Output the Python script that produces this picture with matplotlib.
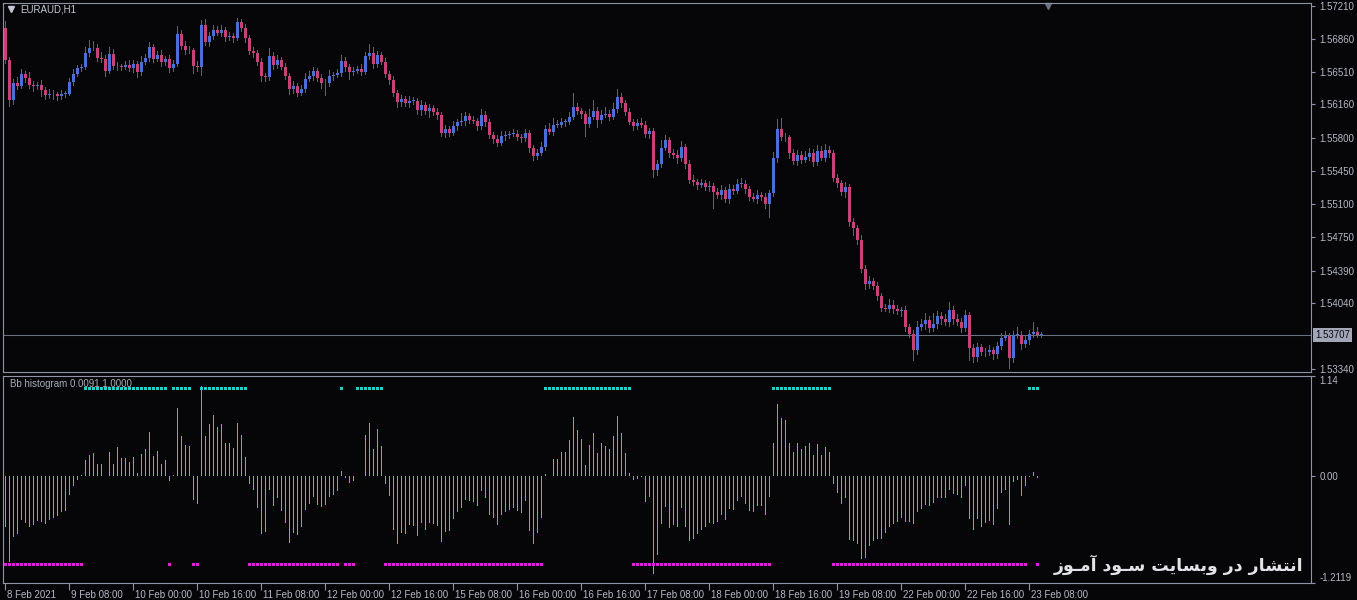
import numpy as np
import matplotlib
matplotlib.use("Agg")
import matplotlib.pyplot as plt
from matplotlib.transforms import blended_transform_factory, ScaledTranslation

# ---------------- data ----------------
symbol_label = "EURAUD,H1"
indicator_label = "Bb histogram 0.0091 1.0000"

first_open = 1.56975
closes = [
    1.56634, 1.56208, 1.56389, 1.56357, 1.56485, 1.56442, 1.56368, 1.56357, 1.56368, 1.56315,
    1.56261, 1.56272, 1.56268, 1.56251, 1.56272, 1.56276, 1.56400, 1.56485, 1.56549, 1.56556,
    1.56709, 1.56762, 1.56758, 1.56656, 1.56650, 1.56517, 1.56698, 1.56570, 1.56566, 1.56562,
    1.56581, 1.56549, 1.56592, 1.56506, 1.56613, 1.56656, 1.56773, 1.56645, 1.56688, 1.56613,
    1.56645, 1.56549, 1.56592, 1.56912, 1.56784, 1.56741, 1.56737, 1.56570, 1.56560, 1.57007,
    1.56826, 1.56890, 1.56954, 1.56922, 1.56954, 1.56880, 1.56890, 1.56869, 1.57039, 1.56975,
    1.56869, 1.56730, 1.56709, 1.56613, 1.56464, 1.56453, 1.56677, 1.56581, 1.56634, 1.56560,
    1.56464, 1.56325, 1.56357, 1.56283, 1.56325, 1.56432, 1.56464, 1.56517, 1.56442, 1.56389,
    1.56385, 1.56464, 1.56474, 1.56496, 1.56624, 1.56560, 1.56506, 1.56517, 1.56538, 1.56506,
    1.56677, 1.56709, 1.56592, 1.56688, 1.56613, 1.56485, 1.56421, 1.56283, 1.56187, 1.56219,
    1.56176, 1.56197, 1.56201, 1.56101, 1.56155, 1.56091, 1.56123, 1.56080, 1.56048, 1.55856,
    1.55899, 1.55856, 1.55931, 1.55973, 1.55984, 1.56037, 1.55995, 1.55984, 1.55931, 1.56048,
    1.55973, 1.55835, 1.55792, 1.55750, 1.55824, 1.55835, 1.55845, 1.55849, 1.55813, 1.55803,
    1.55856, 1.55696, 1.55611, 1.55643, 1.55707, 1.55899, 1.55867, 1.55941, 1.55945, 1.55973,
    1.55977, 1.56027, 1.56133, 1.56091, 1.56059, 1.55952, 1.56027, 1.56091, 1.55995, 1.56048,
    1.56059, 1.56027, 1.56112, 1.56240, 1.56176, 1.56080, 1.55973, 1.55931, 1.55963, 1.55941,
    1.55845, 1.55877, 1.55462, 1.55526, 1.55696, 1.55781, 1.55643, 1.55622, 1.55590, 1.55707,
    1.55526, 1.55355, 1.55334, 1.55302, 1.55323, 1.55280, 1.55291, 1.55227, 1.55195, 1.55248,
    1.55152, 1.55259, 1.55238, 1.55312, 1.55316, 1.55259, 1.55174, 1.55152, 1.55195, 1.55174,
    1.55099, 1.55216, 1.55590, 1.55899, 1.55813, 1.55809, 1.55643, 1.55558, 1.55622, 1.55568,
    1.55600, 1.55643, 1.55547, 1.55664, 1.55590, 1.55675, 1.55643, 1.55376, 1.55323, 1.55227,
    1.55280, 1.54907, 1.54843, 1.54715, 1.54406, 1.54246, 1.54278, 1.54225, 1.54118, 1.53990,
    1.53980, 1.54022, 1.53980, 1.53958, 1.53969, 1.53788, 1.53713, 1.53543, 1.53788, 1.53820,
    1.53863, 1.53777, 1.53820, 1.53905, 1.53873, 1.53841, 1.53969, 1.53873, 1.53841, 1.53777,
    1.53916, 1.53564, 1.53468, 1.53575, 1.53521, 1.53517, 1.53543, 1.53500, 1.53585, 1.53671,
    1.53692, 1.53457, 1.53703, 1.53707, 1.53607, 1.53649, 1.53713, 1.53735, 1.53703, 1.53707,
]
upper_wick_pips = [
    8, 3, 4, 6, 5, 3, 6, 4, 3, 5,   3, 5, 4, 3, 4, 3, 4, 5, 3, 4,
    6, 9, 8, 5, 6, 4, 7, 5, 4, 3,   4, 5, 4, 3, 6, 4, 5, 3, 4, 5,
    3, 4, 4, 9, 4, 5, 4, 3, 5, 5,   6, 4, 5, 4, 5, 3, 4, 3, 4, 3,
    4, 3, 4, 3, 4, 3, 9, 4, 5, 3,   4, 3, 5, 3, 4, 6, 5, 4, 3, 4,
    4, 6, 3, 4, 6, 4, 3, 4, 3, 5,   4, 10, 6, 4, 3, 4, 3, 4, 3, 4,
    3, 5, 4, 3, 5, 3, 4, 3, 4, 3,   4, 3, 5, 3, 8, 4, 3, 4, 3, 6,
    4, 3, 3, 4, 5, 4, 3, 5, 4, 3,   4, 3, 3, 4, 5, 4, 6, 7, 5, 4,
    3, 5, 15, 4, 3, 3, 8, 12, 4, 5, 7, 4, 6, 9, 4, 3, 4, 3, 4, 5,
    4, 3, 3, 4, 9, 5, 3, 4, 5, 6,   3, 4, 5, 3, 4, 3, 5, 3, 4, 5,
    3, 5, 4, 5, 6, 4, 3, 4, 5, 3,   4, 3, 6, 11, 12, 4, 3, 4, 5, 4,
    6, 5, 4, 6, 5, 6, 4, 3, 4, 3,   5, 3, 4, 3, 5, 4, 5, 3, 4, 3,
    4, 6, 5, 4, 3, 4, 3, 4, 6, 5,   7, 4, 12, 5, 4, 5, 9, 4, 5, 4,
    5, 3, 4, 4, 3, 4, 5, 3, 4, 5,   5, 3, 4, 8, 4, 5, 4, 11, 5, 3,
]
lower_wick_pips = [
    4, 7, 5, 4, 3, 5, 4, 6, 4, 8,   5, 4, 6, 5, 4, 4, 3, 4, 3, 4,
    3, 4, 3, 4, 5, 6, 3, 4, 5, 4,   3, 4, 5, 6, 4, 3, 4, 4, 3, 5,
    4, 5, 4, 3, 4, 5, 4, 9, 5, 10,  4, 5, 4, 3, 4, 5, 4, 5, 3, 4,
    5, 4, 5, 4, 6, 5, 4, 5, 4, 3,   4, 6, 5, 4, 3, 4, 3, 5, 4, 6,
    13, 4, 5, 3, 4, 5, 9, 4, 3, 4,  3, 4, 5, 4, 3, 4, 5, 4, 6, 5,
    4, 5, 4, 5, 6, 4, 8, 4, 5, 4,   5, 4, 3, 5, 4, 5, 4, 3, 5, 4,
    5, 4, 5, 4, 3, 5, 4, 3, 4, 5,   4, 5, 5, 4, 3, 4, 3, 4, 3, 4,
    5, 4, 3, 4, 5, 14, 4, 3, 9, 4,  3, 4, 3, 4, 5, 4, 3, 5, 4, 3,
    4, 5, 9, 6, 4, 3, 5, 4, 6, 4,   5, 4, 4, 5, 3, 4, 5, 18, 4, 5,
    4, 5, 4, 3, 4, 5, 4, 3, 5, 4,   5, 15, 4, 5, 4, 5, 6, 4, 5, 4,
    3, 4, 5, 4, 3, 4, 5, 4, 5, 4,   6, 5, 9, 5, 4, 6, 5, 4, 5, 4,
    3, 4, 5, 4, 6, 5, 4, 12, 5, 4,  6, 5, 4, 5, 6, 4, 5, 6, 4, 5,
    4, 14, 6, 5, 4, 5, 4, 6, 5, 4,  3, 12, 5, 4, 6, 4, 5, 4, 3, 3,
]
hist_values = [
    -0.57, -0.97, -0.69, -0.66, -0.50, -0.53, -0.58, -0.55, -0.51, -0.52,
    -0.54, -0.50, -0.47, -0.45, -0.40, -0.39, -0.21, -0.11, -0.04, 0.01,
    0.19, 0.24, 0.27, 0.14, 0.14, 0.00, 0.28, 0.14, 0.33, 0.21,
    0.21, 0.16, 0.22, 0.04, 0.25, 0.31, 0.50, 0.23, 0.29, 0.14,
    0.18, -0.05, 0.01, 0.78, 0.46, 0.36, 0.34, -0.27, -0.31, 1.03,
    0.46, 0.59, 0.70, 0.56, 0.59, 0.38, 0.38, 0.32, 0.61, 0.47,
    0.22, -0.09, -0.16, -0.36, -0.66, -0.63, -0.16, -0.34, -0.25, -0.39,
    -0.53, -0.76, -0.64, -0.67, -0.57, -0.38, -0.31, -0.24, -0.32, -0.35,
    -0.33, -0.23, -0.21, -0.17, 0.06, -0.02, -0.08, -0.05, 0.00, 0.00,
    0.47, 0.61, 0.31, 0.54, 0.35, -0.09, -0.22, -0.61, -0.77, -0.64,
    -0.66, -0.55, -0.56, -0.68, -0.53, -0.61, -0.53, -0.54, -0.56, -0.75,
    -0.63, -0.62, -0.48, -0.40, -0.36, -0.27, -0.28, -0.29, -0.34, -0.17,
    -0.25, -0.44, -0.47, -0.55, -0.44, -0.41, -0.38, -0.36, -0.39, -0.42,
    -0.28, -0.62, -0.77, -0.64, -0.47, 0.03, 0.00, 0.20, 0.20, 0.28,
    0.28, 0.41, 0.67, 0.53, 0.42, 0.13, 0.36, 0.49, 0.27, 0.38,
    0.34, 0.31, 0.46, 0.69, 0.49, 0.27, 0.04, -0.04, -0.03, -0.01,
    -0.29, -0.24, -1.11, -0.89, -0.54, -0.35, -0.59, -0.55, -0.58, -0.36,
    -0.58, -0.74, -0.71, -0.66, -0.61, -0.58, -0.53, -0.54, -0.52, -0.44,
    -0.50, -0.37, -0.38, -0.28, -0.24, -0.31, -0.39, -0.41, -0.34, -0.34,
    -0.44, -0.24, 0.38, 0.82, 0.66, 0.64, 0.38, 0.28, 0.38, 0.31,
    0.34, 0.38, 0.24, 0.37, 0.24, 0.33, 0.28, -0.09, -0.19, -0.31,
    -0.25, -0.72, -0.73, -0.77, -0.94, -0.93, -0.79, -0.73, -0.71, -0.71,
    -0.64, -0.58, -0.54, -0.52, -0.47, -0.52, -0.52, -0.54, -0.41, -0.37,
    -0.32, -0.34, -0.30, -0.25, -0.25, -0.25, -0.15, -0.20, -0.21, -0.25,
    -0.11, -0.48, -0.61, -0.49, -0.58, -0.53, -0.51, -0.55, -0.37, -0.19,
    -0.15, -0.55, -0.06, -0.04, -0.22, -0.11, -0.01, 0.05, -0.02, 0.00,
]
# runs of bars (inclusive) carrying the upper (cyan) / lower (magenta) signal dots
up_signal_runs = [(20, 40), (42, 46), (49, 60), (84, 84), (88, 94), (135, 156),
                  (192, 206), (256, 258)]
down_signal_runs = [(0, 19), (41, 41), (47, 48), (61, 83), (85, 87), (95, 134),
                    (157, 191), (207, 255), (258, 258)]
signal_level = 1.0

current_price = 1.53707
price_ticks = [1.57210, 1.56860, 1.56510, 1.56160, 1.55800, 1.55450,
               1.55100, 1.54750, 1.54390, 1.54040, 1.53340]
ind_ticks = [1.14, 0.00, -1.2119]
ind_tick_labels = ["1.14", "0.00", "-1.2119"]
time_tick_bars = [0, 16, 32, 48, 64, 80, 96, 112, 128, 144, 160, 176, 192, 208, 224, 240, 256]
time_tick_labels = ["8 Feb 2021", "9 Feb 08:00", "10 Feb 00:00", "10 Feb 16:00",
                    "11 Feb 08:00", "12 Feb 00:00", "12 Feb 16:00", "15 Feb 08:00",
                    "16 Feb 00:00", "16 Feb 16:00", "17 Feb 08:00", "18 Feb 00:00",
                    "18 Feb 16:00", "19 Feb 08:00", "22 Feb 00:00", "22 Feb 16:00",
                    "23 Feb 08:00"]
watermark_text = "انتشار در وبسایت سـود آمـوز"

# ---------------- minimal Arabic-script shaping (matplotlib has no shaper) ----------------
FORMS = {  # isolated, final, initial, medial
    'ا': ('\uFE8D', '\uFE8E', None, None),
    'آ': ('\uFE81', '\uFE82', None, None),
    'د': ('\uFEA9', '\uFEAA', None, None),
    'ر': ('\uFEAD', '\uFEAE', None, None),
    'ز': ('\uFEAF', '\uFEB0', None, None),
    'و': ('\uFEED', '\uFEEE', None, None),
    'ن': ('\uFEE5', '\uFEE6', '\uFEE7', '\uFEE8'),
    'ت': ('\uFE95', '\uFE96', '\uFE97', '\uFE98'),
    'ش': ('\uFEB5', '\uFEB6', '\uFEB7', '\uFEB8'),
    'ب': ('\uFE8F', '\uFE90', '\uFE91', '\uFE92'),
    'س': ('\uFEB1', '\uFEB2', '\uFEB3', '\uFEB4'),
    'ی': ('\uFBFC', '\uFBFD', '\uFEF3', '\uFEF4'),
    'م': ('\uFEE1', '\uFEE2', '\uFEE3', '\uFEE4'),
    'ـ': ('\u0640', '\u0640', '\u0640', '\u0640'),
}


def shape_rtl(text):
    out = []
    n = len(text)
    for k, ch in enumerate(text):
        if ch not in FORMS:
            out.append(ch)
            continue
        prev = text[k - 1] if k > 0 else ' '
        nxt = text[k + 1] if k < n - 1 else ' '
        joins_prev = prev in FORMS and FORMS[prev][2] is not None
        joins_next = FORMS[ch][2] is not None and nxt in FORMS
        iso, fin, ini, med = FORMS[ch]
        if joins_prev and joins_next:
            out.append(med)
        elif joins_prev:
            out.append(fin)
        elif joins_next:
            out.append(ini)
        else:
            out.append(iso)
    return ''.join(reversed(out))


# ---------------- style ----------------
W, H = 1357, 600
BG = '#060609'
FRAME = '#8e94a6'
TXT = '#b4b8c6'
UP = '#4a6fd6'
DN = '#c8427a'
WICK = '#62626e'
HIST = '#52d052'
CYAN = '#22d0d0'
MAG = '#e01ee0'
FONT = 'Liberation Sans'
BAR_UNIT_PX = 4.0  # one bar slot = 4 screen pixels

fig = plt.figure(figsize=(W / 100, H / 100), dpi=100, facecolor=BG)


def px_rect(x0, y0, x1, y1):
    return [x0 / W, 1 - y1 / H, (x1 - x0) / W, (y1 - y0) / H]


ax = fig.add_axes(px_rect(3, 3, 1311, 372))
axi = fig.add_axes(px_rect(3, 376, 1311, 583), sharex=ax)

for a in (ax, axi):
    a.set_facecolor(BG)
    for s in a.spines.values():
        s.set_color(FRAME)
        s.set_linewidth(0.8)

n = len(closes)
x = np.arange(n)
c = np.array(closes)
o = np.concatenate([[first_open], c[:-1]])
hi = np.maximum(o, c) + np.array(upper_wick_pips) * 0.0001
lo = np.minimum(o, c) - np.array(lower_wick_pips) * 0.0001

one_px = 1.0 / BAR_UNIT_PX
# wicks as 1-px wide bars
ax.bar(x, hi - lo, bottom=lo, width=one_px, color=WICK, linewidth=0, zorder=2)
# bodies
body_bottom = np.minimum(o, c)
body_h = np.maximum(np.abs(c - o), 0.00009)
cols = [UP if cc > oo else DN for oo, cc in zip(o, c)]
ax.bar(x, body_h, bottom=body_bottom, width=0.75, color=cols, linewidth=0, zorder=3)

# current price line
ax.axhline(current_price, color='#6a7080', linewidth=0.75, zorder=1)

ax.set_xlim(-0.5, 326.5)
ax.set_ylim(1.53308, 1.57242)
ax.yaxis.tick_right()
ax.set_yticks(price_ticks)
ax.set_yticklabels([f"{p:.5f}" for p in price_ticks])
ax.tick_params(axis='y', direction='out', length=3, width=0.8, color=FRAME,
               labelsize=7, labelcolor=TXT, pad=3)
ax.tick_params(axis='x', bottom=False, labelbottom=False)
for lab in ax.get_yticklabels():
    lab.set_fontfamily(FONT)

# price label box
tr = blended_transform_factory(ax.transAxes, ax.transData)
ax.text(1.0, current_price, f"{current_price:.5f}",
        transform=tr + ScaledTranslation(4 / 100, 0, fig.dpi_scale_trans),
        ha='left', va='center', fontsize=7, family=FONT, color='#0a0a10', clip_on=False,
        bbox=dict(boxstyle='square,pad=0.2', fc='#a2a7b8', ec='none'), zorder=5)

# chart-shift marker
ax.plot([260.75], [0.992], marker='v', markersize=5, color='#6c7082',
        transform=blended_transform_factory(ax.transData, ax.transAxes), clip_on=False)

# ---------- indicator ----------
hv = np.array(hist_values)
axi.bar(x, hv, width=one_px, color=HIST, linewidth=0, zorder=2)
ux = [i for a0, a1 in up_signal_runs for i in range(a0, a1 + 1)]
dx = [i for a0, a1 in down_signal_runs for i in range(a0, a1 + 1)]
dot_h = 0.034
axi.bar(ux, dot_h, bottom=signal_level - dot_h / 2, width=0.75, color=CYAN, linewidth=0, zorder=3)
axi.bar(dx, dot_h, bottom=-signal_level - dot_h / 2, width=0.75, color=MAG, linewidth=0, zorder=3)
axi.set_ylim(ind_ticks[-1], ind_ticks[0])
axi.yaxis.tick_right()
axi.set_yticks(ind_ticks)
axi.set_yticklabels(ind_tick_labels)
axi.tick_params(axis='y', direction='out', length=3, width=0.8, color=FRAME,
                labelsize=7, labelcolor=TXT, pad=3)
ylabs = axi.get_yticklabels()
ylabs[0].set_va('top')
ylabs[-1].set_va('bottom')
for lab in ylabs:
    lab.set_fontfamily(FONT)

axi.set_xticks(time_tick_bars)
axi.set_xticklabels(time_tick_labels)
axi.tick_params(axis='x', direction='out', length=5, width=0.8, color=FRAME,
                labelsize=7, labelcolor=TXT, pad=0)
shift = ScaledTranslation(2 / 100, 0, fig.dpi_scale_trans)
for lab in axi.get_xticklabels():
    lab.set_ha('left')
    lab.set_fontfamily(FONT)
    lab.set_transform(lab.get_transform() + shift)

# ---------- texts ----------
fig.text(20 / W, 1 - 10 / H, symbol_label, fontsize=7, family=FONT, color='#c4c8d4',
         ha='left', va='center')
fig.add_artist(plt.Line2D([11 / W], [1 - 9 / H], marker='v', markersize=4.5,
                          color='#c4c8d4', linestyle='none'))
fig.text(10 / W, 1 - 384 / H, indicator_label, fontsize=7, family=FONT, color='#a8acb8',
         ha='left', va='center')
fig.text(1179 / W, 1 - 565 / H, shape_rtl(watermark_text), fontsize=12.5, fontweight='bold',
         family='DejaVu Sans', color='#e2e4ea', ha='center', va='center')

fig.savefig('out.png', dpi=100, facecolor=BG)
